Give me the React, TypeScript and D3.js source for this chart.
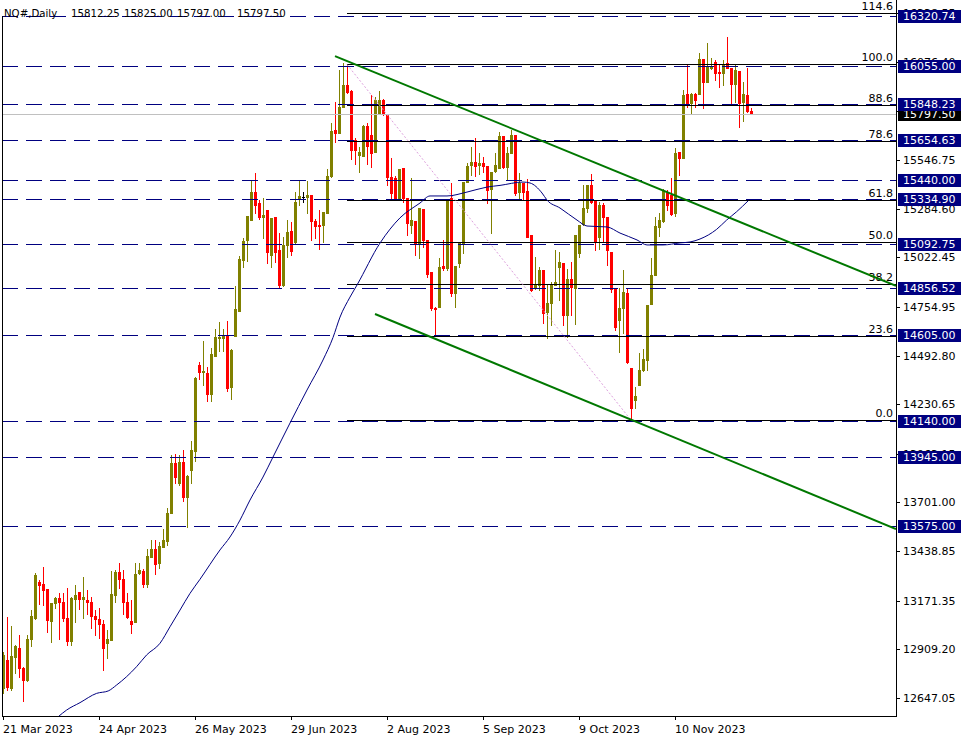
import React from 'react';
import * as d3 from 'd3';

// ---- OHLC data (daily bars, index 0 = 21 Mar 2023) ----
const opens = [
  12701, 12852, 12701, 12868, 12916, 12809, 12744, 12965, 13078, 13272,
  13261, 13234, 13062, 13159, 13186, 13164, 13078, 12954, 13180, 13218,
  13180, 13175, 13164, 13089, 13073, 13046, 12943, 12960, 13202, 13326,
  13288, 13164, 13062, 13057, 13320, 13331, 13261, 13407, 13450, 13374,
  13461, 13493, 13644, 13914, 13806, 13919, 13730, 13876, 13978, 14442,
  14404, 14399, 14285, 14490, 14588, 14588, 14598, 14323, 14600, 14733,
  15008, 15116, 15223, 15374, 15315, 15240, 15277, 15035, 15240, 15062,
  14873, 15089, 15164, 15105, 15336, 15347, 15347, 15358, 15218, 15197,
  15196, 15261, 15461, 15709, 15693, 15832, 15951, 15919, 15655, 15574,
  15568, 15730, 15681, 15590, 15800, 15870, 15789, 15455, 15450, 15342,
  15504, 15342, 15196, 15218, 15100, 15283, 15116, 14943, 14749, 14754,
  14975, 14965, 15342, 14830, 14992, 15100, 15428, 15520, 15536, 15520,
  15530, 15514, 15390, 15487, 15504, 15676, 15509, 15585, 15681, 15374,
  15423, 15380, 15143, 14857, 14873, 14954, 14727, 14776, 14873, 14970,
  14992, 14711, 14905, 14857, 15046, 15202, 15288, 15412, 15331, 15132,
  15304, 15240, 15051, 14851, 14684, 14749, 14830, 14425, 14253, 14334,
  14415, 14469, 14770, 14927, 15186, 15218, 15369, 15358, 15261, 15590,
  15558, 15902, 15854, 15902, 15902, 16091, 15967, 16043, 16075, 16021,
  16016, 16070, 16043, 15956, 16027, 15859, 15897, 15812.25,
];
const highs = [
  12895, 13084, 13035, 12935, 12987, 12815, 12987, 13121, 13320, 13283,
  13353, 13234, 13159, 13191, 13213, 13213, 13240, 13191, 13256, 13218,
  13299, 13229, 13191, 13121, 13132, 13067, 13014, 13331, 13337, 13375,
  13337, 13213, 13175, 13375, 13375, 13342, 13450, 13499, 13499, 13488,
  13558, 13671, 13957, 13962, 13957, 13984, 13849, 14033, 14377, 14458,
  14571, 14431, 14534, 14636, 14674, 14636, 14679, 14528, 14868, 15030,
  15126, 15245, 15439, 15477, 15331, 15342, 15277, 15234, 15240, 15153,
  15132, 15223, 15213, 15374, 15433, 15374, 15433, 15358, 15229, 15277,
  15266, 15498, 15747, 15859, 16032, 16070, 16059, 15924, 15666, 15617,
  15736, 15747, 15897, 15886, 15919, 15875, 15789, 15558, 15460, 15498,
  15504, 15342, 15450, 15218, 15288, 15283, 15116, 14943, 14755, 15019,
  15116, 15331, 15423, 14975, 15105, 15428, 15530, 15617, 15666, 15585,
  15563, 15514, 15482, 15585, 15698, 15676, 15617, 15709, 15681, 15477,
  15423, 15444, 15143, 15024, 14970, 14954, 14873, 14889, 15062, 15051,
  14992, 14959, 14997, 15143, 15196, 15412, 15412, 15471, 15331, 15320,
  15315, 15240, 15051, 14851, 14857, 14954, 14857, 14425, 14323, 14506,
  14528, 14765, 15019, 15240, 15261, 15390, 15385, 15450, 15612, 15590,
  15924, 16059, 15908, 15908, 16124, 16091, 16178, 16097, 16086, 16059,
  16086, 16210, 16043, 16059, 16027, 15967, 16043, 15825,
];
const lows = [
  12674, 12690, 12690, 12782, 12760, 12631, 12738, 12927, 13073, 13154,
  13148, 13003, 12949, 13132, 12965, 13062, 12933, 12933, 13057, 13127,
  13078, 13100, 13024, 12987, 12970, 12798, 12862, 12960, 13164, 13240,
  13100, 13078, 12997, 13057, 13315, 13245, 13245, 13407, 13315, 13347,
  13461, 13472, 13644, 13806, 13795, 13709, 13568, 13806, 13925, 14366,
  14334, 14248, 14248, 14490, 14518, 14518, 14302, 14259, 14600, 14733,
  14970, 15002, 15223, 15261, 15229, 15126, 14992, 14970, 14997, 14857,
  14868, 15024, 15035, 15100, 15304, 15320, 15261, 15116, 15126, 15067,
  15105, 15261, 15455, 15644, 15693, 15832, 15908, 15552, 15525, 15482,
  15568, 15525, 15509, 15590, 15795, 15790, 15412, 15342, 15336, 15336,
  15320, 15143, 15153, 15035, 15019, 15078, 14916, 14738, 14604, 14754,
  14954, 14954, 14814, 14754, 14970, 15046, 15428, 15466, 15461, 15471,
  15482, 15315, 15153, 15482, 15504, 15504, 15444, 15585, 15358, 15331,
  15331, 15132, 14840, 14851, 14846, 14668, 14587, 14657, 14873, 14792,
  14657, 14593, 14711, 14663, 15024, 15196, 15266, 15315, 15062, 15067,
  15105, 14981, 14835, 14630, 14512, 14615, 14453, 14145, 14210, 14334,
  14409, 14415, 14770, 14927, 15137, 15213, 15277, 15250, 15245, 15466,
  15558, 15832, 15800, 15832, 15902, 15827, 15967, 16037, 15978, 15940,
  15951, 16043, 15854, 15860, 15725, 15757, 15805, 15797,
];
const closes = [
  12879, 12706, 12873, 12927, 12809, 12744, 12965, 13089, 13310, 13256,
  13229, 13067, 13159, 13186, 13164, 13078, 12954, 13186, 13202, 13180,
  13191, 13164, 13089, 13073, 13046, 12916, 12965, 13207, 13326, 13288,
  13164, 13084, 13046, 13315, 13337, 13261, 13412, 13450, 13369, 13466,
  13499, 13644, 13914, 13838, 13919, 13730, 13843, 13984, 14372, 14404,
  14409, 14285, 14501, 14593, 14593, 14604, 14318, 14523, 14744, 15013,
  15110, 15245, 15374, 15304, 15240, 15250, 15051, 15234, 15051, 14873,
  15089, 15159, 15057, 15320, 15353, 15347, 15358, 15218, 15191, 15191,
  15266, 15461, 15703, 15693, 15832, 15951, 15913, 15601, 15601, 15590,
  15730, 15623, 15584, 15870, 15870, 15800, 15455, 15369, 15342, 15498,
  15342, 15207, 15223, 15100, 15288, 15116, 14932, 14749, 14744, 14970,
  14965, 15331, 14830, 14975, 15105, 15428, 15514, 15536, 15514, 15530,
  15514, 15385, 15482, 15520, 15676, 15509, 15585, 15681, 15369, 15423,
  15374, 15132, 14846, 14873, 14954, 14722, 14776, 14873, 14889, 14997,
  14711, 14905, 14862, 15143, 15196, 15288, 15412, 15320, 15105, 15304,
  15240, 15062, 14851, 14647, 14749, 14835, 14458, 14210, 14275, 14415,
  14474, 14765, 14927, 15191, 15223, 15380, 15304, 15256, 15585, 15558,
  15897, 15854, 15902, 15870, 16091, 15967, 16048, 16054, 16016, 16016,
  16059, 16043, 15956, 16032, 15854, 15902, 15811, 15797.5,
];

// ---- Moving average ----
const maIndex = [
  13.8, 15.9, 19.25, 23.4, 26.3, 28.4, 30.9, 33.4, 35.9, 39.25, 41.75, 44.25,
  46.75, 49.25, 54.25, 56.75, 59.25, 61.75, 65, 67.5, 71.75, 76, 80, 82.5,
  84.25, 86.75, 88.5, 94.25, 99.25, 104.25, 106.75, 111, 116, 121, 124.25,
  130, 131.75, 134.75, 136, 139.25, 143.5, 146, 151, 154.25, 158.5, 161, 165,
  169.25, 171.75, 174.25, 178.4, 180.9, 183.4, 186.3,
];
const maValues = [
  12546, 12582, 12622, 12672, 12685, 12717, 12762, 12816, 12879, 12942, 13031,
  13121, 13211, 13287, 13445, 13515, 13606, 13714, 13838, 13946, 14129, 14307,
  14469, 14590, 14700, 14808, 14873, 15099, 15235, 15315, 15353, 15353, 15374,
  15401, 15410, 15428, 15423, 15369, 15331, 15288, 15223, 15191, 15186, 15153,
  15116, 15089, 15089, 15100, 15105, 15121, 15173, 15223, 15268, 15327,
];

// ---- Horizontal levels / axes ----
const levelPrices = [16320.74, 16055.0, 15848.23, 15654.63, 15440.0, 15334.9, 15092.75, 14856.52, 14605.0, 14140.0, 13945.0, 13575.0];
const tickPrices = [12647.05, 12909.2, 13171.35, 13438.85, 13701.0, 13963.15, 14230.65, 14492.8, 14754.95, 15022.45, 15284.6, 15546.75, 15808.9, 16076.4, 16338.55];
const currentPrice = 15797.5;
const fibRatios = [0, 23.6, 38.2, 50.0, 61.8, 78.6, 88.6, 100.0, 114.6];
const fibHighIndex = 86;
const fibHighPrice = 16062;
const fibLowIndex = 157;
const fibLowPrice = 14145;
const trendUpperIdx = [83, 223.25];
const trendUpperPrice = [16107, 14868];
const trendLowerIdx = [93, 223.25];
const trendLowerPrice = [14717, 13558];
const dateIndex = [0, 24, 48, 72, 96, 120, 144, 168];
const dateLabels = ['21 Mar 2023', '24 Apr 2023', '26 May 2023', '29 Jun 2023', '2 Aug 2023', '5 Sep 2023', '9 Oct 2023', '10 Nov 2023'];
const headerTexts = ['NQ#,Daily', '15812.25', '15825.00', '15797.00', '15797.50'];

const W = 967;
const H = 741;
const PL = 2;
const PR = 896;
const PT = 0;
const PB = 716;
const FONT = '"DejaVu Sans", Verdana, sans-serif';

export default function App() {
  const x = d3.scaleLinear().domain([0, 223.25]).range([3, 896]);
  const y = d3.scaleLinear().domain([12550, 16398.5]).range([716, 2]);
  const ry = (v: number) => Math.round(y(v));
  const fibPrice = (r: number) => fibLowPrice + (r / 100) * (fibHighPrice - fibLowPrice);

  const maLine = d3
    .line<number>()
    .x((_, i) => x(maIndex[i]))
    .y((d) => y(d))
    .curve(d3.curveMonotoneX);

  const headerX = [4, 71, 124, 177, 237];

  return (
    <svg width={W} height={H} style={{ position: 'absolute', left: 0, top: 0, background: '#fff' }}>
      <defs>
        <clipPath id="plot">
          <rect x={PL} y={PT} width={PR - PL} height={PB - PT} />
        </clipPath>
      </defs>
      <rect x={0} y={0} width={W} height={H} fill="#fff" />
      <g clipPath="url(#plot)">
        {/* candles */}
        {opens.map((o, i) => {
          const c = closes[i];
          const cx = Math.round(x(i));
          const col = c > o ? '#808000' : c < o ? '#ff0000' : '#000000';
          const yh = ry(highs[i]);
          const yl = ry(lows[i]);
          const yt = ry(Math.max(o, c));
          const yb = ry(Math.min(o, c));
          return (
            <g key={i} shapeRendering="crispEdges">
              <rect x={cx} y={yh} width={1} height={Math.max(1, yl - yh + 1)} fill={col} />
              <rect x={cx - 1} y={yt} width={3} height={Math.max(1, yb - yt + 1)} fill={col} />
            </g>
          );
        })}
        {/* current price grey line */}
        <line x1={PL} x2={PR} y1={ry(currentPrice) + 0.5} y2={ry(currentPrice) + 0.5} stroke="#c0c0c0" strokeWidth={1} />
        {/* dashed levels */}
        {levelPrices.map((p, i) => (
          <line key={i} x1={PL} x2={PR} y1={ry(p) + 0.5} y2={ry(p) + 0.5} stroke="#000080" strokeWidth={1} strokeDasharray="16,8" />
        ))}
        {/* fib levels */}
        {fibRatios.map((r, i) => (
          <line key={i} x1={Math.round(x(fibHighIndex))} x2={PR} y1={ry(fibPrice(r)) + 0.5} y2={ry(fibPrice(r)) + 0.5} stroke="#000" strokeWidth={1} />
        ))}
        {fibRatios.map((r, i) => (
          <text key={i} x={893} y={ry(fibPrice(r)) - 3} textAnchor="end" fontFamily={FONT} fontSize={11} fill="#000">
            {r.toFixed(1)}
          </text>
        ))}
        {/* fib diagonal */}
        <line x1={x(fibHighIndex)} y1={y(fibHighPrice)} x2={x(fibLowIndex)} y2={y(fibLowPrice)} stroke="#dda0dd" strokeWidth={1} strokeDasharray="2,2" />
        {/* moving average */}
        <path d={maLine(maValues) || ''} fill="none" stroke="#000080" strokeWidth={1} />
        {/* trendlines */}
        <line x1={x(trendUpperIdx[0])} y1={y(trendUpperPrice[0])} x2={x(trendUpperIdx[1])} y2={y(trendUpperPrice[1])} stroke="#007800" strokeWidth={2} />
        <line x1={x(trendLowerIdx[0])} y1={y(trendLowerPrice[0])} x2={x(trendLowerIdx[1])} y2={y(trendLowerPrice[1])} stroke="#007800" strokeWidth={2} />
      </g>
      {/* frame */}
      <g shapeRendering="crispEdges">
        <line x1={PL + 0.5} x2={PL + 0.5} y1={16} y2={PB} stroke="#000" />
        <line x1={PR + 0.5} x2={PR + 0.5} y1={0} y2={PB} stroke="#000" />
        <line x1={PL} x2={PR + 1} y1={PB + 0.5} y2={PB + 0.5} stroke="#000" />
      </g>
      {/* price axis ticks */}
      {tickPrices.map((p, i) => (
        <g key={i}>
          <line x1={PR} x2={PR + 4} y1={ry(p) + 0.5} y2={ry(p) + 0.5} stroke="#000" shapeRendering="crispEdges" />
          <text x={903} y={ry(p) + 4} fontFamily={FONT} fontSize={11} fill="#000">
            {p.toFixed(2)}
          </text>
        </g>
      ))}
      {/* current price box */}
      <g>
        <rect x={898} y={ry(currentPrice) - 6} width={63} height={13} fill="#000" shapeRendering="crispEdges" />
        <text x={903} y={ry(currentPrice) + 4} fontFamily={FONT} fontSize={11} fill="#fff">
          {currentPrice.toFixed(2)}
        </text>
      </g>
      {/* level boxes */}
      {levelPrices.map((p, i) => (
        <g key={i}>
          <rect x={898} y={ry(p) - 6} width={63} height={13} fill="#000080" shapeRendering="crispEdges" />
          <text x={903} y={ry(p) + 4} fontFamily={FONT} fontSize={11} fill="#fff">
            {p.toFixed(2)}
          </text>
        </g>
      ))}
      {/* date axis */}
      {dateIndex.map((d, i) => (
        <g key={i}>
          <line x1={Math.round(x(d)) + 0.5} x2={Math.round(x(d)) + 0.5} y1={PB} y2={PB + 4} stroke="#000" shapeRendering="crispEdges" />
          <text x={Math.round(x(d))} y={733} fontFamily={FONT} fontSize={11} fill="#000">
            {dateLabels[i]}
          </text>
        </g>
      ))}
      {/* header */}
      {headerTexts.map((t, i) => (
        <text key={i} x={headerX[i]} y={17} fontFamily={FONT} fontSize={10.2} fill="#000">
          {t}
        </text>
      ))}
    </svg>
  );
}
